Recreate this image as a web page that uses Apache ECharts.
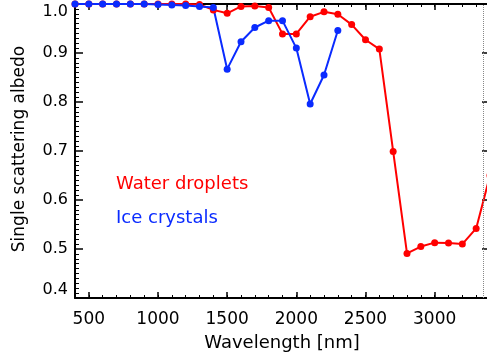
<!DOCTYPE html>
<html>
<head>
<meta charset="utf-8">
<script src="https://cdn.jsdelivr.net/npm/echarts@6/dist/echarts.min.js"></script>
<style>
html,body{margin:0;padding:0;background:#fff;}
#chart{width:487px;height:360px;}
</style>
</head>
<body>
<div id="chart"></div>
<script>
// Wavelength categories (nm)
const wavelengths = [400,500,600,700,800,900,1000,1100,1200,1300,1400,1500,1600,1700,1800,1900,2000,2100,2200,2300,2400,2500,2600,2700,2800,2900,3000,3100,3200,3300,3400];
// Single scattering albedo - water droplets
const waterValues = [1.0,1.0,1.0,1.0,1.0,1.0,1.0,1.0,1.0,0.999,0.988,0.981,0.995,0.996,0.993,0.939,0.939,0.974,0.984,0.979,0.958,0.927,0.908,0.699,0.491,0.505,0.513,0.512,0.510,0.542,0.65];
// Single scattering albedo - ice crystals (400..2300 nm)
const iceValues = [1.0,1.0,1.0,1.0,1.0,1.0,0.999,0.998,0.997,0.995,0.993,0.867,0.923,0.952,0.966,0.966,0.910,0.796,0.855,0.946];
// Tick labels
const xMajorTicks = [500,1000,1500,2000,2500,3000];
const xRange = [400,3400];
const yRange = [0.4,1.0];
const dottedLineX = 3350;
const xTitle = 'Wavelength [nm]';
const yTitle = 'Single scattering albedo';

const FONT = 'DejaVu Sans';
const RED = '#ff0000';
const BLUE = '#0a2bff';

const waterData = wavelengths.map((w,i)=>[w, waterValues[i]]);
const iceData = iceValues.map((v,i)=>[wavelengths[i], v]);

function xAxisMajor(pos, showLabel){
  return {
    type:'value', position:pos, min:xRange[0], max:xRange[1],
    axisLine:{show:true, onZero:false, lineStyle:{color:'#000', width:2}},
    axisTick:{show:true, inside:true, length:6, customValues:xMajorTicks, lineStyle:{color:'#000', width:1.5}},
    axisLabel:{show:showLabel, customValues:xMajorTicks, color:'#000', fontSize:17, fontFamily:FONT, margin:13,
      formatter:(v)=>String(v)},
    splitLine:{show:false}
  };
}
function xAxisMinor(pos){
  return {
    type:'value', position:pos, min:xRange[0], max:xRange[1], interval:100,
    axisLine:{show:false, onZero:false},
    axisTick:{show:true, inside:true, length:3, lineStyle:{color:'#000', width:1}},
    axisLabel:{show:false}, splitLine:{show:false}
  };
}

const chart = echarts.init(document.getElementById('chart'), null, {renderer:'canvas'});
chart.setOption({
  animation:false,
  backgroundColor:'#fff',
  grid:{left:75, top:4, right:-3, bottom:62, outerBoundsMode:'none', containLabel:false},
  xAxis:[xAxisMajor('bottom', true), xAxisMinor('bottom'), xAxisMajor('top', false), xAxisMinor('top')],
  yAxis:[
    {
      type:'value', position:'left', min:yRange[0], max:yRange[1], interval:0.1,
      axisLine:{show:true, onZero:false, lineStyle:{color:'#000', width:2}},
      axisTick:{show:true, inside:true, length:8, lineStyle:{color:'#000', width:1.5}},
      minorTick:{show:true, splitNumber:10, length:4, lineStyle:{color:'#000', width:1}},
      axisLabel:{color:'#000', fontSize:16, fontFamily:FONT, margin:7,
        formatter:(v)=>v.toFixed(1), verticalAlignMaxLabel:'top', verticalAlignMinLabel:'bottom'},
      splitLine:{show:false}
    },
    {
      type:'value', position:'right', min:yRange[0], max:yRange[1], interval:0.1,
      axisLine:{show:true, onZero:false, lineStyle:{color:'#000', width:2}},
      axisTick:{show:true, inside:true, length:8, lineStyle:{color:'#000', width:1.5}},
      axisLabel:{show:false}, splitLine:{show:false}
    }
  ],
  graphic:[
    {type:'text', x:282, y:343, style:{text:xTitle, fill:'#000', font:'18px "DejaVu Sans"', align:'center', verticalAlign:'middle'}},
    {type:'text', x:20, y:149, rotation:Math.PI/2, style:{text:yTitle, fill:'#000', font:'17px "DejaVu Sans"', align:'center', verticalAlign:'middle'}},
    {type:'text', left:116, top:175, style:{text:'Water droplets', fill:RED, font:'18px "DejaVu Sans"'}},
    {type:'text', left:116, top:209, style:{text:'Ice crystals', fill:BLUE, font:'18px "DejaVu Sans"'}}
  ],
  series:[
    {
      name:'Water droplets', type:'line', xAxisIndex:0, yAxisIndex:0, data:waterData,
      symbol:'circle', symbolSize:7, showSymbol:true,
      lineStyle:{color:RED, width:2}, itemStyle:{color:RED},
      markLine:{silent:true, symbol:['none','none'], label:{show:false},
        lineStyle:{type:'dotted', color:'#888', width:1}, data:[{xAxis:dottedLineX}]}
    },
    {
      name:'Ice crystals', type:'line', xAxisIndex:0, yAxisIndex:0, data:iceData,
      symbol:'circle', symbolSize:7, showSymbol:true,
      lineStyle:{color:BLUE, width:2}, itemStyle:{color:BLUE}
    }
  ]
});
</script>
</body>
</html>
